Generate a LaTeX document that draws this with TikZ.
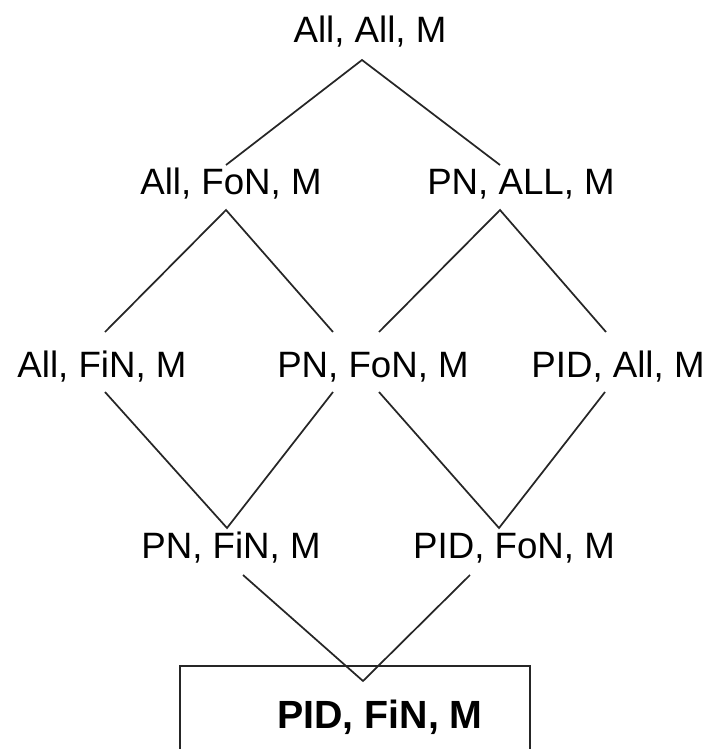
\documentclass[tikz,border=0pt]{standalone}
\usepackage{fontspec}
\setmainfont{Liberation Sans}

\tikzset{
  lbl/.style={anchor=base, inner sep=0pt, font=\fontsize{27.5}{33}\selectfont},
  botlbl/.style={lbl, font=\fontsize{29.5}{35}\selectfont\bfseries},
  edge/.style={line width=1.3pt, color=black!85},
}

\begin{document}
\begin{tikzpicture}[x=0.75pt,y=-0.75pt]
  \clip (0,0) rectangle (709,749);

  % labels
  \node [lbl] (aam) at (370,43) {All, All, M};
  \node [lbl] (afm) at (231,194) {All, FoN, M};
  \node [lbl] (pam) at (521,194) {PN, ALL, M};
  \node [lbl] (afim) at (102,377) {All, FiN, M};
  \node [lbl] (pfm) at (373,377) {PN, FoN, M};
  \node [lbl] (pidam) at (618,377) {PID, All, M};
  \node [lbl] (pfim) at (231,558) {PN, FiN, M};
  \node [lbl] (pidfm) at (514,558) {PID, FoN, M};
  \node [botlbl] (pidfim) at (380,728) {PID, FiN, M};

  \draw [edge] (180,666) rectangle (530,770);

  % line ends
  \coordinate (aam-s) at (362,60);
  \coordinate (afm-n) at (226,165);
  \coordinate (afm-s) at (226,210);
  \coordinate (pam-n) at (500,165);
  \coordinate (pam-s) at (500,210);
  \coordinate (afim-n) at (105,332);
  \coordinate (afim-s) at (105,392);
  \coordinate (pfm-nl) at (333,332);
  \coordinate (pfm-nr) at (379,332);
  \coordinate (pfm-sl) at (333,392);
  \coordinate (pfm-sr) at (379,392);
  \coordinate (pidam-n) at (606,332);
  \coordinate (pidam-s) at (605,392);
  \coordinate (pfim-n) at (227,528);
  \coordinate (pfim-s) at (243,575);
  \coordinate (pidfm-n) at (499,528);
  \coordinate (pidfm-s) at (470,575);
  \coordinate (pidfim-n) at (363,681);

  \draw [edge] (afm-n) -- (aam-s) -- (pam-n);
  \draw [edge] (afim-n) -- (afm-s) -- (pfm-nl);
  \draw [edge] (pfm-nr) -- (pam-s) -- (pidam-n);
  \draw [edge] (afim-s) -- (pfim-n) -- (pfm-sl);
  \draw [edge] (pfm-sr) -- (pidfm-n) -- (pidam-s);
  \draw [edge] (pfim-s) -- (pidfim-n) -- (pidfm-s);
\end{tikzpicture}
\end{document}
